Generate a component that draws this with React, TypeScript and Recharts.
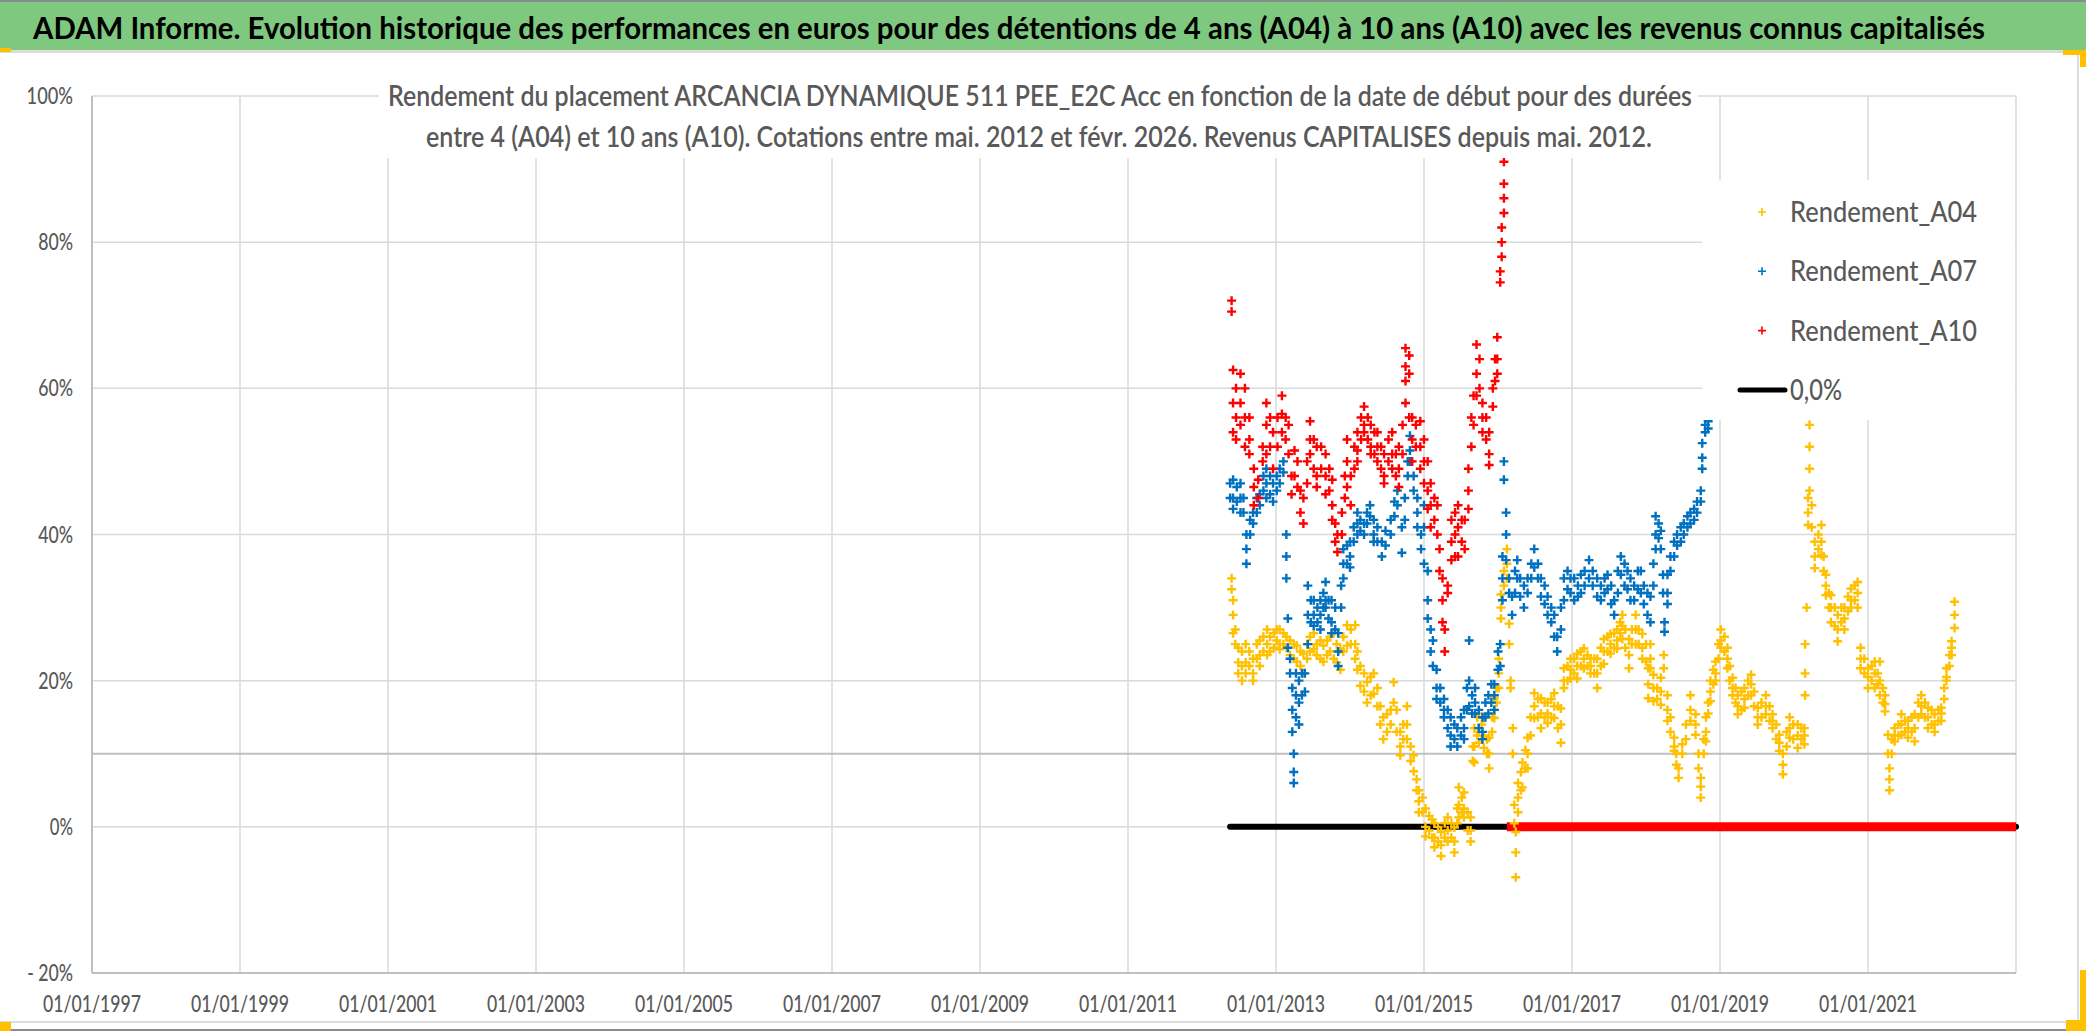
import React from "react";
import {
  ComposedChart,
  Scatter,
  Line,
  XAxis,
  YAxis,
  CartesianGrid,
  ReferenceLine,
  Legend,
} from "recharts";

const YELLOW = "#FFC000";
const BLUE = "#0070C0";
const RED = "#FF0000";
const GRID = "#D9D9D9";
const AXIS = "#BFBFBF";
const TEXT = "#595959";
const FONT = "Lato, 'Open Sans', sans-serif";

const TITLE =
  "ADAM Informe. Evolution historique des performances en euros pour des détentions de 4 ans (A04) à 10 ans (A10) avec les revenus connus capitalisés";
const SUBTITLE = [
  "Rendement du placement ARCANCIA DYNAMIQUE 511 PEE_E2C Acc en fonction de la date de début pour des durées",
  "entre 4 (A04) et 10 ans (A10). Cotations entre mai. 2012 et févr. 2026. Revenus CAPITALISES depuis mai. 2012.",
];

// x axis in decimal years, ticks every 2 years
const X_DOMAIN = [1997, 2023];
const X_TICKS = [1997, 1999, 2001, 2003, 2005, 2007, 2009, 2011, 2013, 2015, 2017, 2019, 2021];
const Y_TICKS = [-20, 0, 20, 40, 60, 80, 100];
const REF_LEVEL = 10;

// each row: [start date, returns (%) read around that date...]
const A10_ROWS: number[][] = [
  [2012.40, 72, 70.5], [2012.42, 62.5, 58, 54], [2012.46, 60, 56, 53], [2012.52, 62, 58, 55],
  [2012.58, 60, 56, 52], [2012.64, 56, 53, 51], [2012.70, 49, 46.5, 44], [2012.76, 47.5, 45],
  [2012.82, 52, 50], [2012.87, 58, 55, 51], [2012.92, 56, 52], [2012.96, 54, 49],
  [2013.02, 52, 56], [2013.08, 59, 56.5, 54], [2013.13, 56, 53], [2013.17, 55, 51],
  [2013.21, 48, 45.5], [2013.25, 51.5, 48], [2013.29, 50, 46.5], [2013.33, 46, 43],
  [2013.37, 45, 41.5], [2013.42, 50, 47], [2013.46, 55.5, 53, 51], [2013.51, 53, 49],
  [2013.55, 52, 48, 46.5], [2013.61, 52, 49], [2013.67, 51, 48, 45.5], [2013.72, 49, 46],
  [2013.76, 47.5, 44, 42], [2013.80, 41.5, 39], [2013.83, 40, 37.6], [2013.89, 43, 40],
  [2013.93, 48, 45], [2013.96, 53, 50, 46.5], [2014.01, 48, 44], [2014.06, 52, 49],
  [2014.10, 54, 51.5, 50], [2014.15, 56, 53], [2014.19, 57.5, 55, 54], [2014.24, 56, 53],
  [2014.28, 55, 52, 51], [2014.33, 54, 51], [2014.37, 54, 52, 50], [2014.42, 52, 49],
  [2014.46, 51, 48, 47], [2014.52, 53, 50], [2014.57, 54, 51, 49], [2014.62, 51, 48],
  [2014.66, 52, 49, 46.5], [2014.71, 55, 51], [2014.75, 65.5, 63, 61, 58], [2014.80, 64.5, 62, 56],
  [2014.84, 56, 53, 50], [2014.89, 55, 52], [2014.95, 55.5, 52, 49], [2015.00, 53, 50, 47],
  [2015.05, 50, 46, 43.5], [2015.09, 47, 44, 41], [2015.14, 45, 42], [2015.18, 44, 40],
  [2015.21, 38, 35], [2015.25, 34, 31, 28], [2015.28, 27, 24], [2015.32, 33, 32],
  [2015.37, 42, 39, 36.5], [2015.42, 43, 40, 37], [2015.46, 44, 41, 37], [2015.51, 42, 39],
  [2015.55, 42, 38], [2015.60, 49, 46, 43.5], [2015.64, 56, 52], [2015.67, 59, 55],
  [2015.71, 66, 62, 59], [2015.75, 64, 60], [2015.79, 58, 56, 54], [2015.84, 56, 53],
  [2015.88, 54, 51, 49.5], [2015.93, 60, 57.5], [2015.96, 64, 61], [2015.99, 67, 64, 62],
  [2016.03, 76, 74.5], [2016.05, 82, 80, 78], [2016.08, 91, 88, 86, 84],
];

const A07_ROWS: number[][] = [
  [2012.38, 47, 45], [2012.42, 47.5, 45, 43.5], [2012.47, 46.5, 44.5], [2012.52, 47, 45, 43],
  [2012.56, 45, 43], [2012.60, 40, 38, 36], [2012.65, 42, 40], [2012.69, 43, 41.5],
  [2012.74, 45, 43], [2012.78, 45.5, 44], [2012.83, 48, 46], [2012.87, 49, 47, 45],
  [2012.92, 48, 45.5], [2012.96, 47, 44.5], [2013.01, 48, 46], [2013.05, 49, 47],
  [2013.10, 50, 48.5], [2013.14, 40, 37, 34], [2013.16, 28.5, 24.5], [2013.19, 23, 21],
  [2013.22, 19, 16, 13], [2013.24, 10, 7.5, 6], [2013.27, 21, 18, 15], [2013.31, 20, 17, 14],
  [2013.35, 21, 18], [2013.39, 21, 18.5], [2013.43, 33, 29, 25], [2013.47, 31, 28],
  [2013.51, 31, 29, 27.5], [2013.56, 30, 28], [2013.60, 31, 29, 27], [2013.64, 32, 30],
  [2013.67, 33.5, 31, 30], [2013.71, 31, 28.5], [2013.75, 31, 28, 26.5], [2013.80, 30, 27],
  [2013.84, 26.5, 24, 22], [2013.88, 33, 30], [2013.91, 38, 36, 34], [2013.96, 38.5, 36],
  [2014.00, 39, 37, 35.5], [2014.05, 41, 39], [2014.10, 43, 41.5, 40], [2014.14, 42, 40.5],
  [2014.19, 41.5, 40], [2014.23, 43, 41.5], [2014.27, 44, 42.5], [2014.32, 42, 40, 39],
  [2014.37, 41, 39], [2014.43, 39, 37], [2014.48, 40.5, 38.5], [2014.55, 42, 40],
  [2014.60, 44.5, 42.5], [2014.64, 46, 44], [2014.70, 41, 37.5], [2014.74, 45, 42],
  [2014.78, 50, 48], [2014.81, 53.5, 51.5, 50], [2014.86, 48, 46], [2014.91, 45, 43, 41],
  [2014.96, 40, 38], [2015.00, 44, 41, 36], [2015.05, 35, 31, 28.5], [2015.09, 27, 24],
  [2015.12, 25.5, 22], [2015.17, 21.5, 19, 17.5], [2015.22, 19, 17], [2015.27, 17.5, 16, 15],
  [2015.32, 16, 13.5], [2015.36, 15, 12.5, 11], [2015.41, 14, 12], [2015.45, 13.5, 11],
  [2015.50, 15, 12.5], [2015.54, 16, 13.5, 12], [2015.58, 19, 16], [2015.61, 25.5, 20, 16.5],
  [2015.65, 18, 15.5], [2015.69, 19, 17, 15.5], [2015.74, 16, 13.5], [2015.79, 15, 13, 12],
  [2015.83, 17, 15], [2015.87, 18, 15.5], [2015.91, 19.5, 17], [2015.95, 19.5, 18, 16],
  [2016.00, 24, 21.5], [2016.03, 25, 22], [2016.06, 37, 34, 31], [2016.08, 50, 47.5],
  [2016.11, 43, 40, 36.5], [2016.15, 34, 32], [2016.19, 31.5, 29], [2016.23, 35, 32],
  [2016.26, 36.5, 34], [2016.30, 34, 31.5], [2016.35, 33, 30], [2016.40, 34, 32],
  [2016.45, 36, 34], [2016.49, 38, 35.5], [2016.54, 36, 34], [2016.58, 34, 31.5],
  [2016.63, 33, 30.5], [2016.67, 31.5, 29], [2016.72, 30, 28], [2016.76, 29, 26],
  [2016.80, 26, 24], [2016.85, 30, 27], [2016.89, 34, 31], [2016.94, 35, 32.5],
  [2016.98, 34, 32], [2017.03, 34, 31], [2017.08, 33, 31.5], [2017.12, 34.5, 32],
  [2017.17, 35, 33], [2017.23, 36.5, 34], [2017.28, 35, 33], [2017.34, 34, 31.5],
  [2017.39, 33, 31], [2017.44, 34, 32], [2017.48, 34.5, 32.5], [2017.53, 33, 30.5],
  [2017.57, 31, 29], [2017.62, 35, 32], [2017.66, 37, 34.5], [2017.71, 36, 33],
  [2017.75, 35, 32.5], [2017.79, 34, 31], [2017.84, 33, 31], [2017.89, 35, 32.5],
  [2017.93, 35, 32], [2017.97, 33, 30.5], [2018.02, 32, 29], [2018.06, 31.5, 28],
  [2018.10, 36, 33], [2018.13, 42.5, 40, 38], [2018.17, 41.5, 39.5], [2018.20, 40.5, 38],
  [2018.23, 34.5, 32], [2018.25, 28, 26.7], [2018.29, 34.5, 32, 30.5], [2018.33, 37, 35],
  [2018.38, 39, 37], [2018.42, 40, 38.5], [2018.47, 41, 39], [2018.51, 41.5, 40],
  [2018.56, 42.5, 41], [2018.60, 43, 41.5], [2018.65, 43.5, 42], [2018.69, 44.5, 43],
  [2018.74, 46, 44.5], [2018.76, 52.5, 50.5, 49], [2018.80, 55, 54], [2018.84, 55.5, 54.5],
  [2018.88, 56.5, 58.5],
];

const A04_ROWS: number[][] = [
  [2012.40, 34, 32.5], [2012.42, 31, 29, 26.5], [2012.45, 27, 25], [2012.49, 24.5, 22.5, 21],
  [2012.54, 24, 22, 20], [2012.59, 25, 22.5, 21], [2012.64, 24, 22], [2012.69, 23, 21, 20],
  [2012.74, 25, 23], [2012.78, 25.5, 23.5, 22], [2012.83, 26, 24], [2012.88, 27, 25, 23.5],
  [2012.92, 26, 24], [2012.97, 26.5, 24.5], [2013.01, 27, 25.5], [2013.05, 27, 25, 24.3],
  [2013.10, 26.5, 25], [2013.14, 26, 24.5], [2013.19, 25.5, 23.5], [2013.24, 25, 23],
  [2013.28, 24.8, 22.6], [2013.33, 24, 22], [2013.37, 23.7, 21], [2013.42, 25, 23],
  [2013.46, 26, 24], [2013.51, 26.5, 24.3], [2013.55, 25, 23.5], [2013.60, 25.5, 23],
  [2013.64, 24.8, 22.6], [2013.69, 25.5, 23.5], [2013.73, 26, 24], [2013.78, 26.5, 23],
  [2013.82, 25, 22.5], [2013.87, 24.3, 21.5], [2013.91, 26, 24], [2013.96, 27.6, 24.8],
  [2014.01, 27, 25], [2014.07, 27.6, 25, 23], [2014.10, 24, 21.5], [2014.14, 22, 19.3],
  [2014.19, 21, 18.5], [2014.23, 19.8, 17], [2014.28, 20.5, 18], [2014.32, 21, 18.2],
  [2014.37, 19, 16.5], [2014.41, 16.5, 14], [2014.45, 15, 12], [2014.50, 15.4, 13],
  [2014.55, 16, 14], [2014.59, 19.8, 17], [2014.63, 16, 13], [2014.68, 13, 11, 9.8],
  [2014.72, 14, 12], [2014.77, 16.5, 14, 12], [2014.82, 11, 9], [2014.86, 9.8, 7.6],
  [2014.90, 6.5, 5], [2014.93, 5, 3.5, 2], [2014.98, 4, 2], [2015.02, 2.5, 0, -1.3],
  [2015.07, 1.5, -0.5], [2015.11, 1, -1.5], [2015.14, 0.5, -1.5, -2.8], [2015.19, 0, -2],
  [2015.23, -0.7, -2.5, -4], [2015.28, 0.5, -1.5], [2015.32, 1.3, -0.5, -2], [2015.37, 0.5, -1.5],
  [2015.41, -0.1, -2, -3.5], [2015.45, 2.5, 0.5], [2015.47, 5.4, 3, 1.3], [2015.51, 4, 2],
  [2015.54, 4.7, 2.5, 1.3], [2015.59, 2, -0.5], [2015.63, 1.3, -0.5, -2], [2015.66, 9, 11],
  [2015.68, 13.5, 11, 8.8], [2015.72, 15, 12.5], [2015.74, 15.5, 13, 11.5], [2015.78, 14, 12],
  [2015.81, 14.9, 12.5, 10.8], [2015.85, 12, 10], [2015.88, 12.2, 10, 8], [2015.92, 15, 13],
  [2015.95, 17.6, 16, 14.9], [2015.98, 19, 17], [2016.01, 23, 21, 19], [2016.04, 31.8, 30, 28.5],
  [2016.08, 33, 35], [2016.12, 38, 36, 34], [2016.15, 27.8, 25], [2016.17, 20, 19],
  [2016.20, 13.5, 10], [2016.22, 3, 0.5], [2016.24, -0.7, -3.5, -6.9], [2016.27, 6, 4, 2],
  [2016.31, 7.5, 5], [2016.33, 8.8, 5.4], [2016.37, 10.5, 8], [2016.40, 12.2, 10, 8],
  [2016.44, 15, 12.5], [2016.49, 18.3, 16.5, 14.9], [2016.54, 17.5, 15], [2016.58, 17.6, 15.5, 13.5],
  [2016.63, 17, 15], [2016.67, 17, 15.5, 14.2], [2016.72, 17.5, 15], [2016.76, 18.3, 16.5, 14.9],
  [2016.81, 16.5, 13.5], [2016.85, 16.2, 14, 11.5], [2016.89, 21.7, 20, 19], [2016.94, 22, 20],
  [2016.98, 23, 21.5, 20.3], [2017.03, 23, 21], [2017.07, 23.7, 22, 20.3], [2017.12, 24, 22],
  [2017.16, 24.4, 23, 21.7], [2017.21, 23.5, 22], [2017.25, 23, 22, 21], [2017.30, 23, 21],
  [2017.34, 23, 21, 19], [2017.39, 24.5, 22], [2017.43, 25.7, 24, 22.3], [2017.48, 26, 24],
  [2017.52, 26.4, 25, 23.7], [2017.57, 26.5, 24.5], [2017.61, 27, 25.5, 24.4], [2017.65, 28, 26.5],
  [2017.68, 29, 27.5, 25.7], [2017.72, 27, 24.5], [2017.77, 25.7, 23.5, 21.7], [2017.81, 27, 25],
  [2017.86, 29, 27, 25], [2017.90, 27, 25], [2017.95, 26.4, 24.5, 23], [2018.00, 25, 22.6],
  [2018.03, 21.7, 19.5, 17.6], [2018.06, 25, 23, 21.7], [2018.10, 20.8, 19, 17.2], [2018.15, 19, 17.5],
  [2018.20, 20.4, 18.5, 16.7], [2018.24, 23.5, 21.7], [2018.29, 18, 16, 14.5], [2018.33, 15, 13],
  [2018.38, 12.2, 11, 10.4], [2018.41, 10, 8.5], [2018.44, 8, 6.7], [2018.49, 11.3, 10],
  [2018.54, 14, 12], [2018.60, 18, 16, 14.5], [2018.67, 15.4, 14, 12.6], [2018.71, 10, 8],
  [2018.74, 6.7, 5.5, 4], [2018.78, 10, 12], [2018.81, 15, 13, 11.7], [2018.84, 17, 15.5],
  [2018.87, 20, 18.5, 17.2], [2018.91, 21.5, 19.5], [2018.94, 22.6, 21, 20], [2018.98, 25, 23],
  [2019.01, 27, 25.5, 24.5], [2019.06, 26, 24], [2019.10, 24.5, 23, 21.7], [2019.13, 22, 20],
  [2019.17, 20.4, 19, 18], [2019.21, 19, 17], [2019.24, 18, 16.5, 15.4], [2019.29, 18.5, 16],
  [2019.33, 19, 17.5, 16.3], [2019.38, 20, 18], [2019.42, 20.8, 19.5, 18], [2019.46, 18.5, 16.5],
  [2019.51, 16.3, 15, 14], [2019.56, 17, 15], [2019.62, 18, 16.5, 15.4], [2019.67, 16.5, 14.5],
  [2019.71, 15.4, 14.5, 13.5], [2019.76, 14, 12], [2019.80, 12.6, 11.5, 10.4], [2019.85, 10, 8.5, 7.2],
  [2019.90, 13, 11], [2019.94, 15, 13.5, 12.2], [2019.99, 14, 12], [2020.05, 14, 12.5, 10.8],
  [2020.10, 13.5, 12], [2020.14, 13.5, 12.5, 11.3], [2020.15, 18, 21, 25], [2020.17, 30],
  [2020.19, 45, 43, 41.3], [2020.21, 55, 52, 49, 46], [2020.24, 44, 41], [2020.28, 39, 37, 35.4],
  [2020.33, 40, 38], [2020.37, 41.3, 39, 37.2], [2020.40, 37, 35], [2020.43, 34.5, 33, 31.7],
  [2020.47, 32, 30], [2020.50, 31.7, 30, 28], [2020.55, 30, 27.5], [2020.59, 29, 27, 25.4],
  [2020.64, 30, 28], [2020.68, 30, 28.5, 27], [2020.73, 31.5, 29.5], [2020.77, 32.6, 31, 30],
  [2020.82, 33, 31], [2020.86, 33.5, 32, 30], [2020.90, 24.5, 23, 21.7], [2020.95, 23, 21],
  [2021.00, 21.7, 20.5, 19], [2021.05, 22, 20], [2021.09, 22.6, 21, 19], [2021.13, 21, 19.5],
  [2021.16, 22.6, 20, 18], [2021.20, 19, 17], [2021.23, 18, 16.8, 15.8], [2021.27, 12.6, 10],
  [2021.29, 8, 6.5, 5], [2021.32, 12, 10], [2021.36, 13.5, 12.5, 11.7], [2021.41, 14, 12.5],
  [2021.45, 15.4, 14, 12.6], [2021.50, 14.5, 13], [2021.54, 14.5, 13.5, 12.2], [2021.59, 15, 13],
  [2021.63, 15.4, 13.5, 11.7], [2021.68, 17, 15], [2021.72, 18, 16.5, 15.4], [2021.77, 17, 15],
  [2021.81, 16.3, 15, 13.5], [2021.86, 16, 14], [2021.90, 15.4, 14, 13], [2021.95, 16, 14.5],
  [2021.99, 16.3, 15.5, 14.5], [2022.03, 19, 17.5], [2022.06, 21.7, 20.5, 20], [2022.10, 23.5, 22],
  [2022.13, 25.4, 24.5, 23.5], [2022.17, 30.8, 29, 27.2],
];

// 0,0% reference series and the zero tail of A10 after its last date
const ZERO_SPAN = [2012.38, 2023];
const A10_ZERO_SPAN = [2016.12, 2023];

const toPoints = (rows: number[][]) =>
  rows.flatMap(([x, ...vals]) => vals.map((y) => ({ x, y })));
const spanPoints = (span: number[]) => span.map((x) => ({ x, y: 0 }));

const SERIES = [
  { name: "Rendement_A04", color: YELLOW, rows: A04_ROWS },
  { name: "Rendement_A07", color: BLUE, rows: A07_ROWS },
  { name: "Rendement_A10", color: RED, rows: A10_ROWS },
];

const plus = (color: string, h: number) => (props: any) => {
  const { cx, cy } = props;
  if (cx == null || cy == null) return <g />;
  return (
    <path
      d={`M${cx - h},${cy}H${cx + h}M${cx},${cy - h}V${cy + h}`}
      stroke={color}
      strokeWidth={2.4}
      fill="none"
    />
  );
};

function XTick({ x, y, payload }: any) {
  return (
    <text
      x={x}
      y={y + 31}
      textAnchor="middle"
      fontSize={23}
      fontWeight={500}
      fontFamily={FONT}
      fill={TEXT}
      textLength={98}
      lengthAdjust="spacingAndGlyphs"
    >
      {`01/01/${payload.value}`}
    </text>
  );
}

function YTick({ x, y, payload }: any) {
  const v = payload.value as number;
  const label = v < 0 ? `- ${Math.abs(v)}%` : `${v}%`;
  const core = label.replace(/[- ]/g, "").length;
  const len = core * 11.6 + (label.length - core) * 5.5;
  return (
    <text
      x={x - 11}
      y={y + 8}
      textAnchor="end"
      fontSize={23}
      fontWeight={500}
      fontFamily={FONT}
      fill={TEXT}
      textLength={len}
      lengthAdjust="spacingAndGlyphs"
    >
      {label}
    </text>
  );
}

function LegendBox() {
  const rows = [
    ...SERIES.map((s) => ({ name: s.name, color: s.color, line: false })),
    { name: "0,0%", color: "#000", line: true },
  ];
  const widths: Record<string, number> = { "0,0%": 52 };
  return (
    <svg width={313} height={240} style={{ display: "block", background: "#fff" }}>
      {rows.map((r, i) => {
        const cy = 32 + i * 59.3;
        return (
          <g key={r.name}>
            {r.line ? (
              <line x1={38} x2={83} y1={cy} y2={cy} stroke={r.color} strokeWidth={5} strokeLinecap="round" />
            ) : (
              <path d={`M56,${cy}H64M60,${cy - 4}V${cy + 4}`} stroke={r.color} strokeWidth={1.6} />
            )}
            <text
              x={88}
              y={cy + 10}
              fontSize={29}
              fontWeight={500}
              fontFamily={FONT}
              fill={TEXT}
              textLength={widths[r.name] ?? 187}
              lengthAdjust="spacingAndGlyphs"
            >
              {r.name}
            </text>
          </g>
        );
      })}
    </svg>
  );
}

export default function App() {
  return (
    <div
      style={{
        position: "fixed",
        left: 0,
        top: 0,
        width: 2086,
        height: 1031,
        background: "#fff",
        overflow: "hidden",
        fontFamily: FONT,
      }}
    >
      <div style={{ position: "absolute", left: 0, top: 0 }}>
        <ComposedChart
          width={2086}
          height={1031}
          margin={{ top: 96, right: 70, bottom: 18, left: 12 }}
        >
          <CartesianGrid stroke={GRID} strokeWidth={1.5} />
          <XAxis
            type="number"
            dataKey="x"
            domain={X_DOMAIN}
            ticks={X_TICKS}
            interval={0}
            height={40}
            tickLine={false}
            axisLine={{ stroke: AXIS, strokeWidth: 2 }}
            tick={<XTick />}
          />
          <YAxis
            type="number"
            dataKey="y"
            domain={[-20, 100]}
            ticks={Y_TICKS}
            interval={0}
            width={80}
            tickLine={false}
            axisLine={{ stroke: AXIS, strokeWidth: 2 }}
            tick={<YTick />}
          />
          <ReferenceLine y={REF_LEVEL} stroke={AXIS} strokeWidth={2} />
          <Line
            data={spanPoints(ZERO_SPAN)}
            dataKey="y"
            name="0,0%"
            stroke="#000"
            strokeWidth={6}
            strokeLinecap="round"
            dot={false}
            isAnimationActive={false}
          />
          {SERIES.map((s) => (
            <Scatter
              key={s.name}
              name={s.name}
              data={toPoints(s.rows)}
              dataKey="y"
              fill={s.color}
              shape={plus(s.color, 4.5)}
              isAnimationActive={false}
            />
          ))}
          <Line
            data={spanPoints(A10_ZERO_SPAN)}
            dataKey="y"
            legendType="none"
            stroke={RED}
            strokeWidth={9}
            dot={false}
            isAnimationActive={false}
          />
          <Legend
            layout="vertical"
            align="center"
            verticalAlign="middle"
            wrapperStyle={{ left: 1702, top: 180, width: 313, height: 240 }}
            content={() => <LegendBox />}
          />
        </ComposedChart>
      </div>

      {/* chart subtitle box over the plot, header band and frame */}
      <svg
        width={2086}
        height={1031}
        style={{ position: "absolute", left: 0, top: 0, pointerEvents: "none" }}
      >
        <rect x={379} y={56} width={1319} height={102} fill="#fff" />
        <text x={1040} y={106} textAnchor="middle" fontSize={28} fontWeight={600} fontFamily={FONT} fill={TEXT} textLength={1304} lengthAdjust="spacingAndGlyphs">
          {SUBTITLE[0]}
        </text>
        <text x={1039} y={147} textAnchor="middle" fontSize={28} fontWeight={600} fontFamily={FONT} fill={TEXT} textLength={1226} lengthAdjust="spacingAndGlyphs">
          {SUBTITLE[1]}
        </text>

        <rect x={0} y={0} width={2086} height={2} fill="#8c8c8c" />
        <rect x={0} y={2} width={2086} height={48} fill="#7EC97F" />
        <rect x={0} y={50} width={2086} height={3} fill="#DCDCDC" />
        <rect x={2077} y={53} width={2} height={969} fill="#DCDCDC" />
        <rect x={0} y={1021} width={2086} height={2} fill="#DCDCDC" />
        <rect x={0} y={1029} width={2086} height={2} fill="#8c8c8c" />
        <text x={1009} y={39} textAnchor="middle" fontSize={30} fontWeight={700} fontFamily={FONT} fill="#000" textLength={1952} lengthAdjust="spacingAndGlyphs">
          {TITLE}
        </text>

        {/* selection handles */}
        <rect x={0} y={48} width={11} height={4} fill={YELLOW} />
        <rect x={0} y={1022} width={11} height={9} fill={YELLOW} />
        <rect x={2063} y={50} width={23} height={5} fill={YELLOW} />
        <rect x={2080} y={50} width={6} height={17} fill={YELLOW} />
        <rect x={2080} y={970} width={6} height={61} fill={YELLOW} />
        <rect x={2066} y={1020} width={20} height={11} fill={YELLOW} />
      </svg>
    </div>
  );
}
